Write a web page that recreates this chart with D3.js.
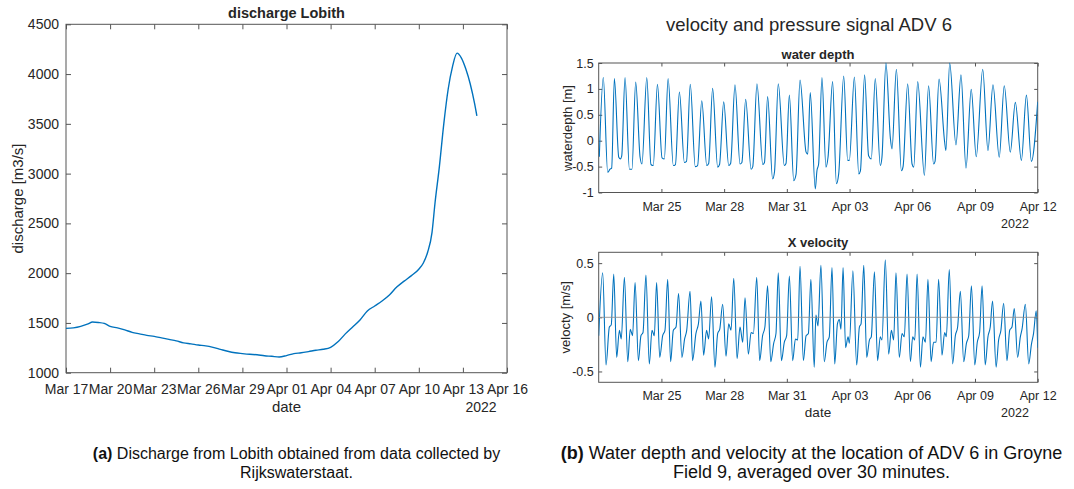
<!DOCTYPE html>
<html>
<head>
<meta charset="utf-8">
<script src="https://cdn.jsdelivr.net/npm/d3@7"></script>
<style>
  body { margin: 0; background: #fff; }
  svg { font-family: "Liberation Sans", Arial, Helvetica, sans-serif; }
</style>
</head>
<body>
<script>
// ---- data ----

// (a) discharge Lobith, days after Mar 17 2022 and m3/s
const dischargeStart = '2022-03-17';
const dischargeDay = [0, 0.5, 1.0, 1.5, 1.8, 2.2, 2.6, 3.0,
    3.5, 4.0, 4.5, 5.0, 5.5, 6.0, 6.5, 7.0, 7.5, 8.0,
    8.5, 9.0, 9.5, 10.0, 10.5, 11.0, 11.5, 12.0, 12.5, 13.0,
    13.5, 14.0, 14.5, 15.0, 15.5, 16.0, 16.5, 17.0, 17.5, 18.0,
    18.5, 19.0, 19.5, 20.0, 20.5, 21.0, 21.5, 22.0, 22.5, 23.0,
    23.5, 24.0, 24.3, 24.6, 24.9, 25.1, 25.4, 25.7, 26.0, 26.3,
    26.6, 26.9, 27.2, 27.5, 27.8, 27.95];
const dischargeFlow = [1445, 1450, 1465, 1490, 1510, 1505, 1495, 1465,
    1450, 1430, 1405, 1390, 1375, 1365, 1350, 1335, 1320, 1300,
    1290, 1278, 1270, 1255, 1235, 1215, 1200, 1192, 1185, 1180,
    1170, 1165, 1158, 1172, 1192, 1200, 1212, 1225, 1235, 1255,
    1310, 1390, 1460, 1530, 1620, 1670, 1720, 1780, 1860, 1920,
    1975, 2040, 2100, 2210, 2410, 2700, 3070, 3500, 3850, 4080,
    4210, 4160, 4050, 3900, 3700, 3580];
const dischargeDateTicks = ['2022-03-17', '2022-03-20', '2022-03-23', '2022-03-26',
    '2022-03-29', '2022-04-01', '2022-04-04', '2022-04-07', '2022-04-10',
    '2022-04-13', '2022-04-16'];
const dischargeTicks = [1000, 1500, 2000, 2500, 3000, 3500, 4000, 4500];

// (b) ADV 6 signals, days after Mar 22 2022
const advStart = '2022-03-22';
const advEnd = '2022-04-12';
const depthDay = [0.03, 0.22, 0.43, 0.54, 0.62, 0.75,
    0.96, 1.04, 1.10, 1.26, 1.47, 1.59, 1.77, 1.98, 2.07,
    2.30, 2.50, 2.61, 2.81, 3.03, 3.14, 3.32, 3.57, 3.67,
    3.86, 4.10, 4.20, 4.38, 4.62, 4.73, 4.93, 5.17, 5.26,
    5.45, 5.69, 5.78, 5.98, 6.22, 6.31, 6.52, 6.76, 6.85,
    7.03, 7.29, 7.37, 7.57, 7.85, 7.93, 8.08, 8.32, 8.41,
    8.59, 8.88, 8.96, 9.12, 9.33, 9.44, 9.63, 9.92, 10.00,
    10.12, 10.36, 10.44, 10.52,
    10.68, 10.87, 10.97, 11.19, 11.37, 11.48, 11.72, 11.91, 11.99,
    12.23, 12.44, 12.52, 12.72, 12.91, 13.04, 13.23, 13.47, 13.55,
    13.74, 13.95, 14.03, 14.24, 14.48, 14.56, 14.78, 14.99, 15.07,
    15.26, 15.58, 15.78, 16.02, 16.09, 16.28, 16.55, 16.61,
    16.79, 17.09, 17.33, 17.57, 17.82, 18.06, 18.37, 18.62,
    18.86, 19.16, 19.40, 19.69, 19.93, 20.22, 20.46, 20.70, 21.00];
const depthValue = [-0.31, 1.22, -0.61, -0.55, -0.53, 1.20,
    -0.32, -0.35, -0.30, 1.22, -0.55, -0.55, 1.13, -0.32, -0.45,
    1.22, -0.46, -0.48, 1.09, -0.33, -0.35, 1.20, -0.48, -0.46,
    0.94, -0.42, -0.40, 1.09, -0.50, -0.48, 0.77, -0.48, -0.44,
    1.01, -0.51, -0.46, 0.75, -0.48, -0.44, 1.08, -0.45, -0.42,
    0.80, -0.55, -0.50, 1.10, -0.46, -0.42, 0.85, -0.74, -0.60,
    1.10, -0.48, -0.44, 0.88, -0.77, -0.65, 1.17, -0.22, -0.26,
    0.93, -0.93, -0.58, -0.45,
    1.22, -0.51, -0.32, 1.14, -0.83, -0.64, 1.25, -0.38, -0.38,
    1.23, -0.64, -0.58, 1.27, -0.29, -0.35, 1.20, -0.48, -0.32,
    1.50, 0.06, -0.16, 1.38, -0.58, -0.50, 1.10, -0.45, -0.51,
    1.14, -0.67, 1.06, -0.45, -0.40, 1.19, -0.03, -0.19,
    1.50, -0.08, 1.27, -0.53, 0.99, -0.31, 1.38, -0.19,
    1.08, -0.32, 1.06, -0.22, 0.74, -0.38, 0.88, -0.40, 0.75];
const velocityDay = [0.00,
    0.19, 0.35, 0.51, 0.60, 0.72, 0.86, 0.99, 1.08,
    1.23, 1.39, 1.51, 1.62, 1.74, 1.90, 2.02, 2.12,
    2.26, 2.42, 2.55, 2.66, 2.77, 2.92, 3.06, 3.17,
    3.30, 3.44, 3.57, 3.70, 3.82, 3.98, 4.11, 4.21,
    4.37, 4.49, 4.65, 4.77, 4.89, 5.02, 5.16, 5.26,
    5.40, 5.56, 5.69, 5.79, 5.93, 6.09, 6.22, 6.33,
    6.46, 6.62, 6.76, 6.89, 7.00, 7.16, 7.29, 7.40,
    7.56, 7.70, 7.84, 7.95, 8.08, 8.23, 8.37, 8.48,
    8.59, 8.74, 8.88, 8.99, 9.12, 9.28, 9.41, 9.52,
    9.63, 9.79, 9.92, 10.03, 10.15, 10.31, 10.39, 10.49,
    10.63, 10.79, 10.92, 11.03, 11.16, 11.29, 11.42, 11.51, 11.59,
    11.69, 11.81, 11.93, 11.99, 12.16, 12.34, 12.47, 12.55,
    12.68, 12.82, 12.95, 13.04, 13.19, 13.34, 13.47, 13.55,
    13.71, 13.87, 14.00, 14.11, 14.22, 14.38, 14.51, 14.62,
    14.75, 14.91, 15.02, 15.12, 15.23, 15.39, 15.51, 15.63,
    15.75, 15.90, 16.02, 16.14, 16.26, 16.42, 16.55, 16.63,
    16.77, 16.93, 17.06, 17.17, 17.30, 17.46, 17.59, 17.70,
    17.83, 17.99, 18.11, 18.22, 18.34, 18.49, 18.62, 18.73,
    18.84, 19.01, 19.13, 19.24, 19.37, 19.53, 19.66, 19.77,
    19.88, 20.04, 20.17, 20.25, 20.41, 20.57, 20.70, 20.80,
    20.93, 21.00];
const velocityValue = [-0.17,
    0.41, -0.44, -0.09, -0.07, 0.40, -0.37, -0.12, -0.20,
    0.37, -0.41, -0.11, -0.17, 0.32, -0.40, -0.17, -0.14,
    0.39, -0.43, -0.12, -0.17, 0.32, -0.37, -0.17, -0.12,
    0.35, -0.41, -0.12, -0.09, 0.22, -0.37, -0.20, -0.12,
    0.24, -0.40, -0.15, -0.06, 0.15, -0.35, -0.12, -0.20,
    0.19, -0.46, -0.15, -0.11, 0.12, -0.36, -0.06, -0.12,
    0.36, -0.38, -0.09, -0.23, 0.18, -0.34, -0.14, -0.15,
    0.37, -0.40, -0.17, -0.09, 0.29, -0.41, -0.24, -0.15,
    0.41, -0.40, -0.23, -0.17, 0.38, -0.40, -0.20, -0.21,
    0.47, -0.40, -0.17, -0.15, 0.35, -0.46, 0.02, -0.08,
    0.48, -0.41, -0.23, -0.18, 0.46, -0.43, -0.06, -0.02, -0.11,
    0.46, -0.28, -0.18, -0.24, 0.43, -0.44, -0.09, -0.06,
    0.48, -0.37, -0.21, -0.18, 0.42, -0.40, -0.18, -0.21,
    0.53, -0.34, -0.12, -0.21, 0.41, -0.37, -0.15, -0.18,
    0.40, -0.41, -0.18, -0.21, 0.40, -0.46, -0.18, -0.23,
    0.35, -0.41, -0.23, -0.23, 0.35, -0.35, -0.14, -0.18,
    0.44, -0.43, -0.17, -0.09, 0.24, -0.41, -0.24, -0.17,
    0.29, -0.44, -0.23, -0.14, 0.29, -0.44, -0.18, -0.09,
    0.15, -0.46, -0.21, -0.12, 0.13, -0.40, -0.12, -0.09,
    0.08, -0.37, -0.18, -0.11, 0.12, -0.43, -0.25, -0.15,
    0.06, -0.28];
const advDateTicks = ['2022-03-25', '2022-03-28', '2022-03-31', '2022-04-03',
    '2022-04-06', '2022-04-09', '2022-04-12'];
const depthTicks = [-1, -0.5, 0, 0.5, 1, 1.5];
const velocityTicks = [-0.5, 0, 0.5];

// ---- drawing ----
const parseDay = d3.utcParse('%Y-%m-%d');
const fmtDay = d3.utcFormat('%b %d');
const dayMs = 864e5;
const lineColor = '#0072bd';
const textColor = '#262626';

const svg = d3.select('body').append('svg')
    .attr('width', 1074)
    .attr('height', 489);

function toPoints(start, days, values) {
    const t0 = parseDay(start).getTime();
    return days.map((d, i) => ({ date: new Date(t0 + d * dayMs), value: values[i] }));
}

/**
 * MATLAB style box: frame, inward ticks on all four sides,
 * labels on the left and bottom only.
 */
function drawFrame(x, y, box, opt) {
    const g = svg.append('g').style('color', textColor);
    const xt = opt.xTicks.map(parseDay);

    g.append('g')
        .attr('transform', `translate(0,${box.bottom})`)
        .call(d3.axisBottom(x).tickValues(xt).tickFormat(fmtDay)
            .tickSizeInner(-opt.tick).tickSizeOuter(0).tickPadding(opt.xPad));
    g.append('g')
        .attr('transform', `translate(0,${box.top})`)
        .call(d3.axisTop(x).tickValues(xt).tickFormat('')
            .tickSizeInner(-opt.tick).tickSizeOuter(0));
    g.append('g')
        .attr('transform', `translate(${box.left},0)`)
        .call(d3.axisLeft(y).tickValues(opt.yTicks).tickFormat(v => String(v))
            .tickSizeInner(-opt.tick).tickSizeOuter(0).tickPadding(opt.yPad));
    g.append('g')
        .attr('transform', `translate(${box.right},0)`)
        .call(d3.axisRight(y).tickValues(opt.yTicks).tickFormat('')
            .tickSizeInner(-opt.tick).tickSizeOuter(0));

    g.selectAll('.domain').remove();
    g.selectAll('.tick line').attr('stroke', '#555');
    g.selectAll('g').attr('font-family', null).attr('font-size', opt.font);

    g.append('rect')
        .attr('x', box.left)
        .attr('y', box.top)
        .attr('width', box.right - box.left)
        .attr('height', box.bottom - box.top)
        .attr('fill', 'none')
        .attr('stroke', '#555')
        .attr('stroke-width', 1);
    return g;
}

function label(txt, x, y, size, opts = {}) {
    const t = svg.append('text')
        .attr('x', x)
        .attr('y', y)
        .attr('dy', '0.35em')
        .attr('text-anchor', opts.anchor || 'middle')
        .attr('font-size', size)
        .attr('font-weight', opts.bold ? 'bold' : null)
        .attr('fill', textColor)
        .text(txt);
    if (opts.rotate) {
        t.attr('transform', `rotate(-90,${x},${y})`);
    }
    return t;
}

function plotLine(points, x, y, box, id, width) {
    svg.append('clipPath').attr('id', id)
        .append('rect')
        .attr('x', box.left)
        .attr('y', box.top - 1)
        .attr('width', box.right - box.left)
        .attr('height', box.bottom - box.top + 2);

    svg.append('path')
        .datum(points)
        .attr('clip-path', `url(#${id})`)
        .attr('fill', 'none')
        .attr('stroke', lineColor)
        .attr('stroke-width', width)
        .attr('stroke-linejoin', 'round')
        .attr('d', d3.line()
            .curve(d3.curveMonotoneX)
            .x(d => x(d.date))
            .y(d => y(d.value)));
}

// (a) discharge
const boxA = { left: 66, right: 507, top: 24.3, bottom: 372.7 };
const xA = d3.scaleUtc()
    .domain([parseDay(dischargeDateTicks[0]), parseDay(dischargeDateTicks[dischargeDateTicks.length - 1])])
    .range([boxA.left, boxA.right]);
const yA = d3.scaleLinear()
    .domain([dischargeTicks[0], dischargeTicks[dischargeTicks.length - 1]])
    .range([boxA.bottom, boxA.top]);

drawFrame(xA, yA, boxA, { xTicks: dischargeDateTicks, yTicks: dischargeTicks,
    tick: 5, xPad: 11, yPad: 7, font: 14 });
plotLine(toPoints(dischargeStart, dischargeDay, dischargeFlow), xA, yA, boxA, 'clipA', 1.4);

label('discharge Lobith', 286.5, 13, 14.5, { bold: true });
label('discharge [m3/s]', 18, 198.5, 15, { rotate: true });
label('date', 286.5, 407, 15);
label('2022', 481, 407, 14);

// (b) ADV 6
const xB = d3.scaleUtc()
    .domain([parseDay(advStart), parseDay(advEnd)]);
const boxDepth = { left: 598.7, right: 1037.7, top: 63, bottom: 192.5 };
const boxVel = { left: 598.7, right: 1037.7, top: 252.3, bottom: 382.3 };
xB.range([boxDepth.left, boxDepth.right]);

const yDepth = d3.scaleLinear()
    .domain([depthTicks[0], depthTicks[depthTicks.length - 1]])
    .range([boxDepth.bottom, boxDepth.top]);
const yVel = d3.scaleLinear()
    .domain([-0.6, 0.6])
    .range([boxVel.bottom, boxVel.top]);

label('velocity and pressure signal ADV 6', 809, 25, 18.5);

drawFrame(xB, yDepth, boxDepth, { xTicks: advDateTicks, yTicks: depthTicks,
    tick: 3.5, xPad: 9.5, yPad: 5, font: 12.5 });
plotLine(toPoints(advStart, depthDay, depthValue), xB, yDepth, boxDepth, 'clipD', 1.1);
label('water depth', 818, 54, 13, { bold: true });
label('waterdepth [m]', 567, 128, 13, { rotate: true });
label('2022', 1015, 224, 12.5);

drawFrame(xB, yVel, boxVel, { xTicks: advDateTicks, yTicks: velocityTicks,
    tick: 3.5, xPad: 9, yPad: 5, font: 12.5 });
plotLine(toPoints(advStart, velocityDay, velocityValue), xB, yVel, boxVel, 'clipV', 1.1);
svg.append('line')
    .attr('x1', boxVel.left)
    .attr('x2', boxVel.right)
    .attr('y1', yVel(0))
    .attr('y2', yVel(0))
    .attr('stroke', '#8c8c8c')
    .attr('stroke-opacity', 0.85)
    .attr('stroke-width', 1);
label('X velocity', 818, 242.7, 13, { bold: true });
label('velocty [m/s]', 565.5, 317.3, 13, { rotate: true });
label('date', 818, 412.7, 13.5);
label('2022', 1015, 413, 12.5);

// captions
function caption(tag, rest, x, y, size) {
    const t = svg.append('text')
        .attr('x', x)
        .attr('y', y)
        .attr('dy', '0.35em')
        .attr('text-anchor', 'middle')
        .attr('font-size', size)
        .attr('fill', '#111');
    if (tag) {
        t.append('tspan').attr('font-weight', 'bold').text(tag);
    }
    t.append('tspan').text(rest);
}
caption('(a)', ' Discharge from Lobith obtained from data collected by', 296.5, 453, 16);
caption(null, 'Rijkswaterstaat.', 296.5, 472, 16);
caption('(b)', ' Water depth and velocity at the location of ADV 6 in Groyne', 811.5, 453, 18);
caption(null, 'Field 9, averaged over 30 minutes.', 811.5, 472, 18);
</script>
</body>
</html>
